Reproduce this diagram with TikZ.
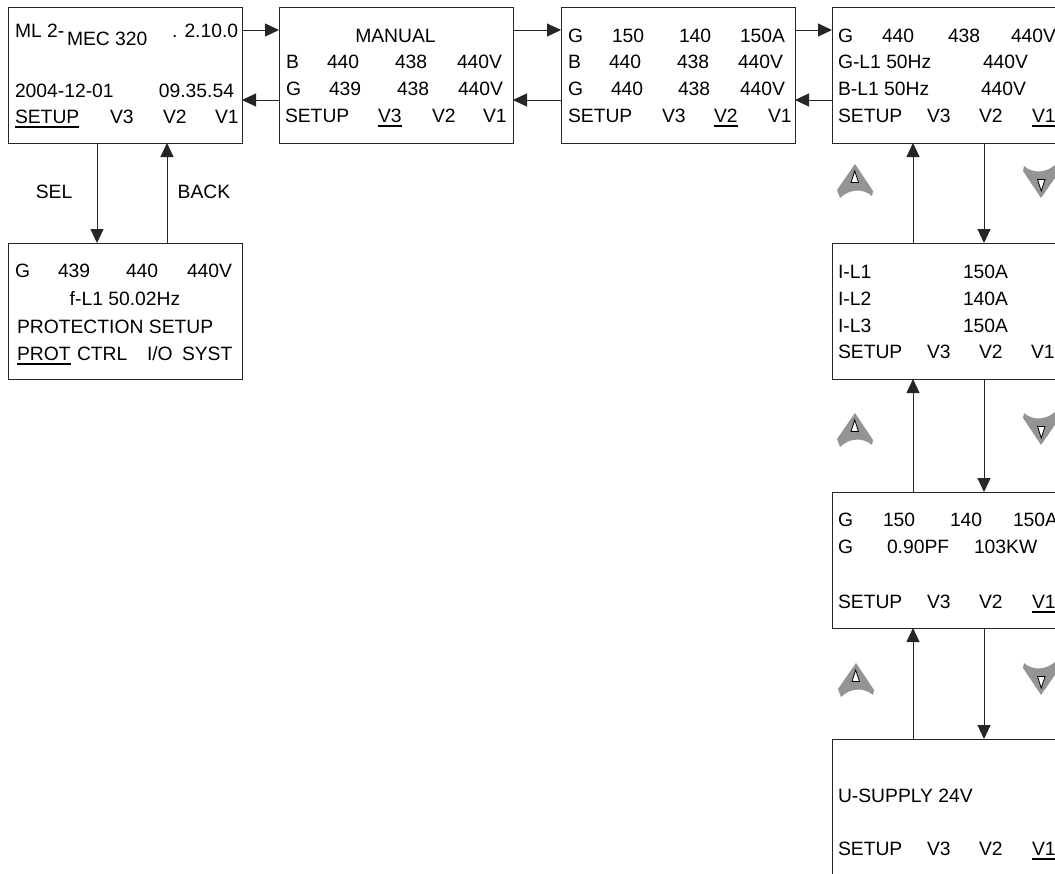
\documentclass[tikz,border=0pt]{standalone}
\usepackage{fontspec}
\setmainfont{Liberation Sans}
\usetikzlibrary{arrows.meta}
\newsavebox\ulbox
\newcommand\myul[1]{\sbox\ulbox{#1}\rlap{\rule[-4.5pt]{\wd\ulbox}{1.6pt}}\usebox\ulbox}
\tikzset{
  box/.style={draw=black!85, line width=1pt, minimum width=234pt, minimum height=136pt, inner sep=0pt, outer sep=0pt, anchor=north west},
  txt/.style={anchor=base west, inner sep=0pt, outer sep=0pt, font=\fontsize{19.3}{22}\selectfont},
  txtc/.style={txt, anchor=base},
  arr/.style={draw=black!85, line width=1pt, -{Triangle[length=14pt,width=13pt]}},
  upicon/.pic={
    \fill[black!42] (0,-17) -- (18,10) -- (17,15) .. controls (8,7) and (-6,8) .. (-15,17) -- (-18,9) -- cycle;
    \draw[fill=white, line width=0.8pt] (-4,1.5) -- (3.5,1.5) -- (-0.3,-10) -- cycle;
  }
}
\begin{document}
\begin{tikzpicture}[x=1pt,y=-1pt]
\useasboundingbox (0,0) rectangle (1055,873);
\clip (0,0) rectangle (1055,873);
% boxes
\node[box] (b1) at (8,7) {};
\node[box] (b2) at (279,7) {};
\node[box] (b3) at (561,7) {};
\node[box] (b4) at (832,7) {};
\node[box] (b5) at (8,243) {};
\node[box] (b6) at (832,243) {};
\node[box] (b7) at (832,492) {};
\node[box] (b8) at (832,739) {};
% horizontal connectors
\draw[arr] ([yshift=-23pt]b1.north east) -- ([yshift=-23pt]b2.north west);
\draw[arr] ([yshift=-93pt]b2.north west) -- ([yshift=-93pt]b1.north east);
\draw[arr] ([yshift=-23pt]b2.north east) -- ([yshift=-23pt]b3.north west);
\draw[arr] ([yshift=-93pt]b3.north west) -- ([yshift=-93pt]b2.north east);
\draw[arr] ([yshift=-23pt]b3.north east) -- ([yshift=-23pt]b4.north west);
\draw[arr] ([yshift=-93pt]b4.north west) -- ([yshift=-93pt]b3.north east);
% SEL / BACK
\draw[arr] ([xshift=89pt]b1.south west) -- ([xshift=89pt]b5.north west);
\draw[arr] ([xshift=159pt]b5.north west) -- ([xshift=159pt]b1.south west);
\node[txtc] (sel) at (54,198) {SEL};
\node[txtc] (back) at (204,198) {BACK};
% right column
\draw[arr] ([xshift=81pt]b6.north west) -- ([xshift=81pt]b4.south west);
\draw[arr] ([xshift=152pt]b4.south west) -- ([xshift=152pt]b6.north west);
\draw[arr] ([xshift=81pt]b7.north west) -- ([xshift=81pt]b6.south west);
\draw[arr] ([xshift=152pt]b6.south west) -- ([xshift=152pt]b7.north west);
\draw[arr] ([xshift=81pt]b8.north west) -- ([xshift=81pt]b7.south west);
\draw[arr] ([xshift=152pt]b7.south west) -- ([xshift=152pt]b8.north west);
% icons
\pic at (855,181) {upicon};
\pic[rotate=180] at (1041,181) {upicon};
\pic at (855,430) {upicon};
\pic[rotate=180] at (1041,428) {upicon};
\pic at (856,680) {upicon};
\pic[rotate=180] at (1041,678) {upicon};
% box 1 text
\node[txt] (t1a) at (15,37) {ML 2-};
\node[txt] (t1b) at (67,45) {MEC 320};
\node[txt] (t1c) at (172,37) {. 2.10.0};
\node[txt] (t1d) at (15,97) {2004-12-01};
\node[txt,anchor=base east] (t1e) at (234,97) {09.35.54};
\node[txt] (t1f) at (15,123) {\myul{SETUP}};
\node[txt] (t1g) at (110,123) {V3};
\node[txt] (t1h) at (163,123) {V2};
\node[txt] (t1i) at (215,123) {V1};
% box 2 text
\node[txtc] (t2a) at (395.5,42) {MANUAL};
\node[txt] (t2b) at (286,68) {B};
\node[txt] (t2c) at (327,68) {440};
\node[txt] (t2d) at (395,68) {438};
\node[txt] (t2e) at (457,68) {440V};
\node[txt] (t2f) at (286,95) {G};
\node[txt] (t2g) at (329,95) {439};
\node[txt] (t2h) at (397,95) {438};
\node[txt] (t2i) at (458,95) {440V};
\node[txt] (t2j) at (285,122) {SETUP};
\node[txt] (t2k) at (378,122) {\myul{V3}};
\node[txt] (t2l) at (432,122) {V2};
\node[txt] (t2m) at (483,122) {V1};
% box 3 text
\node[txt] (t3a) at (568,42) {G};
\node[txt] (t3b) at (612,42) {150};
\node[txt] (t3c) at (679,42) {140};
\node[txt] (t3d) at (740,42) {150A};
\node[txt] (t3e) at (568,68) {B};
\node[txt] (t3f) at (609,68) {440};
\node[txt] (t3g) at (677,68) {438};
\node[txt] (t3h) at (738,68) {440V};
\node[txt] (t3i) at (568,95) {G};
\node[txt] (t3j) at (611,95) {440};
\node[txt] (t3k) at (678,95) {438};
\node[txt] (t3l) at (740,95) {440V};
\node[txt] (t3m) at (568,122) {SETUP};
\node[txt] (t3n) at (662,122) {V3};
\node[txt] (t3o) at (714,122) {\myul{V2}};
\node[txt] (t3p) at (768,122) {V1};
% box 4 text
\node[txt] (t4a) at (838,42) {G};
\node[txt] (t4b) at (882,42) {440};
\node[txt] (t4c) at (948,42) {438};
\node[txt] (t4d) at (1011,42) {440V};
\node[txt] (t4e) at (838,68) {G-L1 50Hz};
\node[txt] (t4f) at (983,68) {440V};
\node[txt] (t4g) at (838,95) {B-L1 50Hz};
\node[txt] (t4h) at (981,95) {440V};
\node[txt] (t4i) at (838,122) {SETUP};
\node[txt] (t4j) at (927,122) {V3};
\node[txt] (t4k) at (979,122) {V2};
\node[txt] (t4l) at (1032,122) {\myul{V1}};
% box 5 text
\node[txt] (t5a) at (15,277) {G};
\node[txt] (t5b) at (58,277) {439};
\node[txt] (t5c) at (126,277) {440};
\node[txt] (t5d) at (187,277) {440V};
\node[txtc] (t5e) at (125,305) {f-L1 50.02Hz};
\node[txt] (t5f) at (17,333) {PROTECTION SETUP};
\node[txt] (t5g) at (17,360) {\myul{PROT}};
\node[txt] (t5h) at (77,360) {CTRL};
\node[txt] (t5i) at (147,360) {I/O};
\node[txt] (t5j) at (182,360) {SYST};
% box 6 text
\node[txt] (t6a) at (838,278) {I-L1};
\node[txt] (t6b) at (963,278) {150A};
\node[txt] (t6c) at (838,305) {I-L2};
\node[txt] (t6d) at (963,305) {140A};
\node[txt] (t6e) at (838,332) {I-L3};
\node[txt] (t6f) at (963,332) {150A};
\node[txt] (t6g) at (838,358) {SETUP};
\node[txt] (t6h) at (927,358) {V3};
\node[txt] (t6i) at (979,358) {V2};
\node[txt] (t6j) at (1031,358) {V1};
% box 7 text
\node[txt] (t7a) at (838,526) {G};
\node[txt] (t7b) at (883,526) {150};
\node[txt] (t7c) at (950,526) {140};
\node[txt] (t7d) at (1013,526) {150A};
\node[txt] (t7e) at (838,553) {G};
\node[txt] (t7f) at (887,553) {0.90PF};
\node[txt] (t7g) at (974,553) {103KW};
\node[txt] (t7h) at (838,608) {SETUP};
\node[txt] (t7i) at (927,608) {V3};
\node[txt] (t7j) at (979,608) {V2};
\node[txt] (t7k) at (1032,608) {\myul{V1}};
% box 8 text
\node[txt] (t8a) at (838,802) {U-SUPPLY 24V};
\node[txt] (t8b) at (838,855) {SETUP};
\node[txt] (t8c) at (927,855) {V3};
\node[txt] (t8d) at (979,855) {V2};
\node[txt] (t8e) at (1032,855) {\myul{V1}};
\end{tikzpicture}
\end{document}
